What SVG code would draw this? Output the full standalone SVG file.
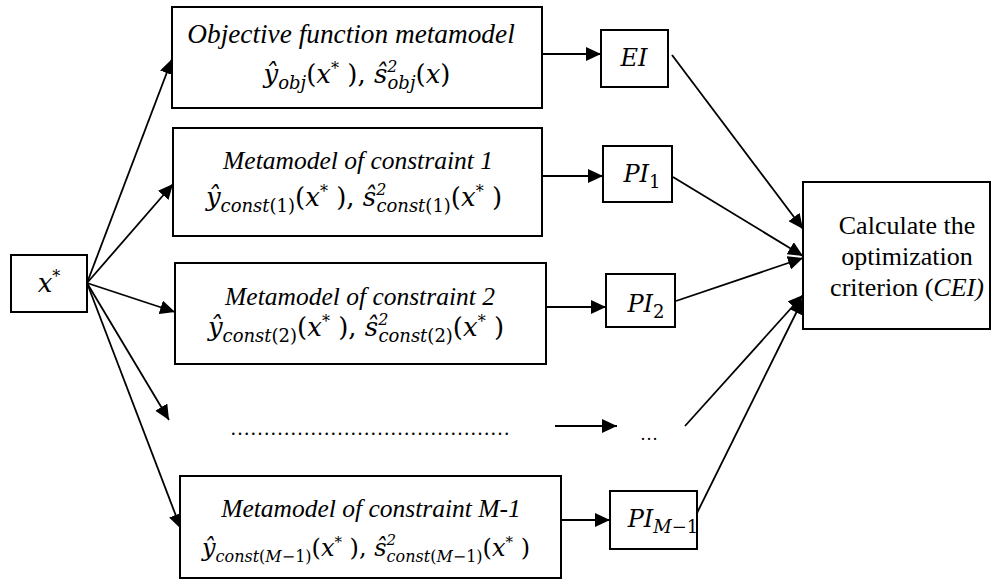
<svg xmlns="http://www.w3.org/2000/svg" width="998" height="585" viewBox="0 0 998 585">
  <style>
    .box { fill: #ffffff; stroke: #000000; stroke-width: 2; }
    .edge { fill: none; stroke: #000000; stroke-width: 1.8; marker-end: url(#head); }
    .title { font-family: 'Liberation Serif', serif; font-style: italic; font-size: 25.5px; fill: #000; }
    .plain { font-family: 'Liberation Serif', serif; font-size: 26px; fill: #000; }
    .m { font-family: 'DejaVu Serif', serif; font-style: italic; font-size: 26px; fill: #000; }
    .sb { font-size: 18px; }
    .sp { font-size: 16px; }
    .up { font-style: normal; }
    .dots { font-family: 'Liberation Serif', serif; font-size: 20px; fill: #000; }
    .narrow { font-size: 24px; }
    .narrow .sb { font-size: 16px; }
    .narrow .sp { font-size: 15px; }
  </style>
  <defs>
    <marker id="head" markerUnits="userSpaceOnUse" markerWidth="16" markerHeight="14" refX="15" refY="7" orient="auto">
      <path d="M0,0 L15,7 L0,14 z" fill="#000"/>
    </marker>
  </defs>

  <rect width="998" height="585" fill="#ffffff"/>

  <!-- connectors -->
  <g id="connectors">
    <line class="edge" x1="87" y1="283" x2="172" y2="59"/>
    <line class="edge" x1="87" y1="283" x2="173" y2="184"/>
    <line class="edge" x1="87" y1="283" x2="175" y2="312"/>
    <line class="edge" x1="87" y1="283" x2="169" y2="420"/>
    <line class="edge" x1="87" y1="283" x2="181" y2="529"/>
    <line class="edge" x1="542" y1="54" x2="601" y2="54"/>
    <line class="edge" x1="542" y1="176" x2="603" y2="176"/>
    <line class="edge" x1="546" y1="307" x2="606" y2="307"/>
    <line class="edge" x1="555" y1="426" x2="617" y2="426"/>
    <line class="edge" x1="561" y1="520" x2="610" y2="520"/>
    <line class="edge" x1="672" y1="55" x2="803" y2="229"/>
    <line class="edge" x1="673" y1="177" x2="803" y2="256"/>
    <line class="edge" x1="676" y1="301" x2="803" y2="258"/>
    <line class="edge" x1="685" y1="426" x2="803" y2="295"/>
    <line class="edge" x1="697" y1="513" x2="803" y2="299"/>
  </g>

  <!-- input point -->
  <g id="xstar">
    <rect class="box" x="11" y="255" width="76" height="57"/>
    <text class="m" x="49" y="292" text-anchor="middle">x<tspan class="sp" dy="-10">*</tspan></text>
  </g>

  <!-- objective metamodel -->
  <g id="objective">
    <rect class="box" x="172" y="7" width="370" height="101"/>
    <text class="title" x="351" y="43" text-anchor="middle" font-family="Liberation Serif, serif" style="font-size:27.3px">Objective function metamodel</text>
    <text class="m" x="357" y="83" text-anchor="middle">ŷ<tspan class="sb" dy="6">obj</tspan><tspan class="up" dy="-6">(</tspan>x<tspan class="sp" dy="-9">*</tspan><tspan class="up" dy="9"> ),</tspan> ŝ<tspan class="sp" dy="-11">2</tspan><tspan class="sb" dx="-10" dy="17">obj</tspan><tspan class="up" dy="-6">(</tspan>x<tspan class="up">)</tspan></text>
  </g>

  <!-- constraint 1 -->
  <g id="constraint1">
    <rect class="box" x="173" y="128" width="369" height="108"/>
    <text class="title" x="358" y="169" text-anchor="middle" font-family="Liberation Serif, serif">Metamodel of constraint 1</text>
    <text class="m" x="354" y="206" text-anchor="middle">ŷ<tspan class="sb" dy="6">const<tspan class="up">(1)</tspan></tspan><tspan class="up" dy="-6">(</tspan>x<tspan class="sp" dy="-9">*</tspan><tspan class="up" dy="9"> ),</tspan> ŝ<tspan class="sp" dy="-11">2</tspan><tspan class="sb" dx="-10" dy="17">const<tspan class="up">(1)</tspan></tspan><tspan class="up" dy="-6">(</tspan>x<tspan class="sp" dy="-9">*</tspan><tspan class="up" dy="9"> )</tspan></text>
  </g>

  <!-- constraint 2 -->
  <g id="constraint2">
    <rect class="box" x="175" y="263" width="371" height="101"/>
    <text class="title" x="360" y="305" text-anchor="middle" font-family="Liberation Serif, serif">Metamodel of constraint 2</text>
    <text class="m" x="356" y="336" text-anchor="middle">ŷ<tspan class="sb" dy="6">const<tspan class="up">(2)</tspan></tspan><tspan class="up" dy="-6">(</tspan>x<tspan class="sp" dy="-9">*</tspan><tspan class="up" dy="9"> ),</tspan> ŝ<tspan class="sp" dy="-11">2</tspan><tspan class="sb" dx="-10" dy="17">const<tspan class="up">(2)</tspan></tspan><tspan class="up" dy="-6">(</tspan>x<tspan class="sp" dy="-9">*</tspan><tspan class="up" dy="9"> )</tspan></text>
  </g>

  <!-- elided constraints -->
  <g id="ellipsis-row">
    <text class="dots" x="230" y="435" font-family="Liberation Serif, serif">……………………………………</text>
    <text class="dots" x="640" y="440" font-family="Liberation Serif, serif" style="font-size:18px">…</text>
  </g>

  <!-- constraint M-1 -->
  <g id="constraintM1">
    <rect class="box" x="180" y="476" width="381" height="102"/>
    <text class="title" x="371" y="517" text-anchor="middle" font-family="Liberation Serif, serif">Metamodel of constraint M-1</text>
    <text class="m narrow" x="366" y="556" text-anchor="middle">ŷ<tspan class="sb" dy="6">const<tspan class="up">(</tspan>M<tspan class="up">−1)</tspan></tspan><tspan class="up" dy="-6">(</tspan>x<tspan class="sp" dy="-9">*</tspan><tspan class="up" dy="9"> ),</tspan> ŝ<tspan class="sp" dy="-11">2</tspan><tspan class="sb" dx="-9.5" dy="17">const<tspan class="up">(</tspan>M<tspan class="up">−1)</tspan></tspan><tspan class="up" dy="-6">(</tspan>x<tspan class="sp" dy="-9">*</tspan><tspan class="up" dy="9"> )</tspan></text>
  </g>

  <!-- acquisition terms -->
  <g id="EI">
    <rect class="box" x="601" y="30" width="67" height="57"/>
    <text class="m" x="634" y="66" text-anchor="middle" style="font-size:24px">EI</text>
  </g>
  <g id="PI1">
    <rect class="box" x="603" y="146" width="69" height="56"/>
    <text class="m" x="642" y="182" text-anchor="middle" style="font-size:24px">PI<tspan class="sb up" dy="6">1</tspan></text>
  </g>
  <g id="PI2">
    <rect class="box" x="606" y="274" width="69" height="53"/>
    <text class="m" x="646" y="312" text-anchor="middle" style="font-size:24px">PI<tspan class="sb up" dy="6">2</tspan></text>
  </g>
  <g id="PIM1">
    <rect class="box" x="610" y="491" width="87" height="58"/>
    <text class="m" x="663" y="527" text-anchor="middle" style="font-size:24px">PI<tspan class="sb" dy="6">M<tspan class="up">−1</tspan></tspan></text>
  </g>

  <!-- criterion -->
  <g id="CEI">
    <rect class="box" x="803" y="182" width="187" height="147"/>
    <text class="plain" x="907" y="234" text-anchor="middle" font-family="Liberation Serif, serif">Calculate the</text>
    <text class="plain" x="907" y="265" text-anchor="middle" font-family="Liberation Serif, serif">optimization</text>
    <text class="plain" x="907" y="296" text-anchor="middle" font-family="Liberation Serif, serif">criterion (<tspan font-style="italic">CEI)</tspan></text>
  </g>
</svg>
